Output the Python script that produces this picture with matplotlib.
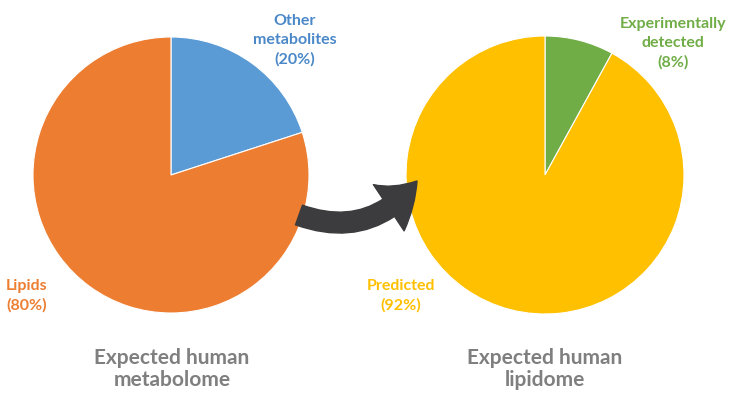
import matplotlib
matplotlib.use("Agg")
import matplotlib.pyplot as plt
from matplotlib.patches import FancyArrowPatch, ArrowStyle

# Share of the expected human metabolome
metabolome_labels = ["Other\nmetabolites", "Lipids"]
metabolome_values = [20, 80]
metabolome_colors = ["#5B9BD5", "#ED7D31"]

# Share of the expected human lipidome
lipidome_labels = ["Experimentally\ndetected", "Predicted"]
lipidome_values = [8, 92]
lipidome_colors = ["#70AD47", "#FFC000"]

titles = ["Expected human\nmetabolome", "Expected human\nlipidome"]

W, H = 730, 393
fig = plt.figure(figsize=(W / 100, H / 100), dpi=100)
ax = fig.add_axes([0, 0, 1, 1])

FONT = ["Lato", "DejaVu Sans"]


def Y(y):
    return H - y


wp = dict(edgecolor="white", linewidth=0.8)
ax.pie(metabolome_values, colors=metabolome_colors, startangle=90,
       counterclock=False, center=(171, Y(175)), radius=138,
       wedgeprops=wp)
ax.pie(lipidome_values, colors=lipidome_colors, startangle=90,
       counterclock=False, center=(545, Y(175)), radius=139,
       wedgeprops=wp)

ax.set_xlim(0, W)
ax.set_ylim(0, H)
ax.set_aspect("equal")
ax.axis("off")


def label(x, y, name, value, color, ha="center"):
    ax.text(x, Y(y), f"{name}\n({value}%)", ha=ha, va="center",
            color=color, fontsize=11.5, fontweight="bold",
            family=FONT, linespacing=1.45)


label(295, 40, metabolome_labels[0], metabolome_values[0], "#4A88C8")
label(27, 296, metabolome_labels[1], metabolome_values[1], "#ED7D31")
label(673, 43, lipidome_labels[0], lipidome_values[0], "#70AD47")
label(401, 296, lipidome_labels[1], lipidome_values[1], "#FFC000")

for x, t in zip([172, 545], titles):
    ax.text(x, Y(369), t, ha="center", va="center", color="#7F7F7F",
            fontsize=15, fontweight="bold", family=FONT, linespacing=1.12)

# Curved arrow linking the lipid share to the lipidome
arrow = FancyArrowPatch(
    (299, Y(215)), (417, Y(181)),
    connectionstyle="arc3,rad=0.36",
    arrowstyle=ArrowStyle("Simple", head_length=28, head_width=40,
                          tail_width=15),
    color="#3C3C3E", zorder=5, shrinkA=0, shrinkB=0, mutation_scale=1)
ax.add_patch(arrow)

fig.savefig("out.png", dpi=100)
